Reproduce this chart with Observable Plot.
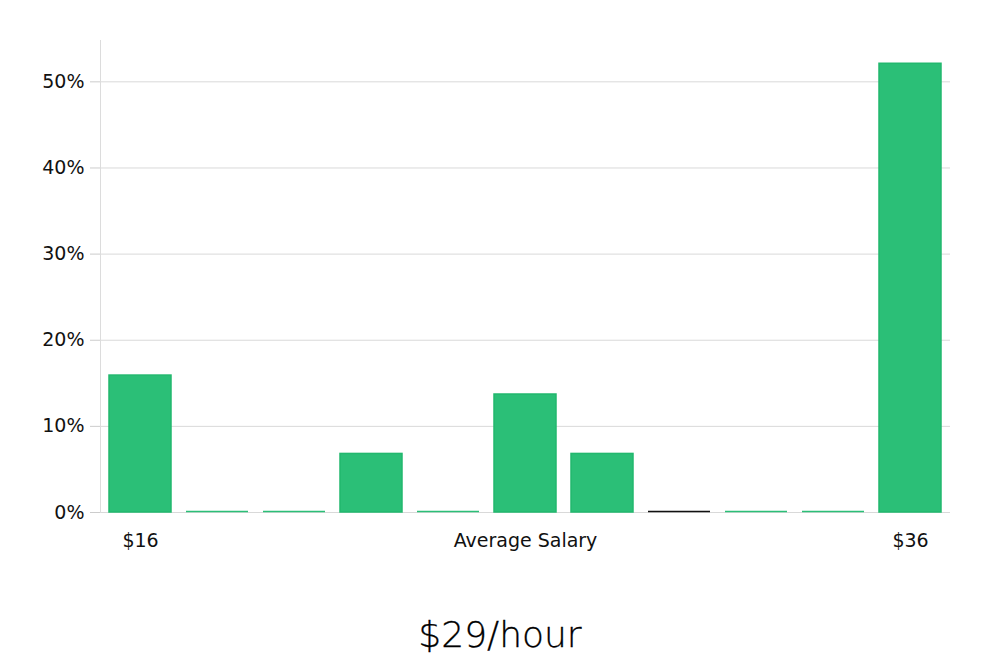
<!DOCTYPE html>
<html>
<head>
<meta charset="utf-8">
<script src="https://cdn.jsdelivr.net/npm/d3@7"></script>
<script src="https://cdn.jsdelivr.net/npm/@observablehq/plot@0.6"></script>
<style>
  html, body { margin: 0; padding: 0; background: #fff; }
  #chart { width: 1000px; }
  .title { text-align: center; font-family: "DejaVu Sans", sans-serif; font-weight: 200; font-size: 36px; color: #000; margin-top: 44px; -webkit-text-stroke: 0.3px #000; }
</style>
</head>
<body>
<div id="chart"></div>
<div class="title">$29/hour</div>
<script>
const bins = [0, 1, 2, 3, 4, 5, 6, 7, 8, 9, 10];
const shares = [0.159, 0, 0, 0.068, 0, 0.137, 0.068, 0, 0, 0, 0.521];
const tickLabels = ["$16", "", "", "", "", "Average Salary", "", "", "", "", "$36"];
const zeroColors = ["#2bbf77", "#2bbf77", "#2bbf77", "#2bbf77", "#2bbf77", "#2bbf77", "#2bbf77", "#111111", "#2bbf77", "#2bbf77", "#2bbf77"];

const data = bins.map((b, i) => ({bin: b, share: shares[i], zc: zeroColors[i]}));
const nonzero = data.filter(d => d.share > 0);
const zeros = data.filter(d => d.share === 0);

const chart = Plot.plot({
  width: 1000,
  height: 570,
  marginLeft: 100,
  marginRight: 50,
  marginTop: 40,
  marginBottom: 58,
  style: {fontFamily: "DejaVu Sans, sans-serif", fontSize: "19px", color: "#111"},
  x: {domain: bins, paddingInner: 0.2, paddingOuter: 0.1, label: null},
  y: {domain: [0, 0.548], label: null},
  marks: [
    Plot.gridY({ticks: [0, 0.1, 0.2, 0.3, 0.4, 0.5], stroke: "#d9d9d9", strokeOpacity: 1}),
    Plot.frame({anchor: "left", stroke: "#dcdcdc"}),
    Plot.axisY({ticks: [0, 0.1, 0.2, 0.3, 0.4, 0.5], tickFormat: d => Math.round(d * 100) + "%", tickSize: 10, tickPadding: 6, stroke: "#cccccc", fontSize: 19, label: null}),
    Plot.axisX({tickFormat: i => tickLabels[i], tickSize: 0, tickPadding: 21, fontSize: 19, label: null}),
    Plot.barY(nonzero, {x: "bin", y: "share", fill: "#2bbf77", stroke: "#22b86e", strokeWidth: 1.5}),
    Plot.tickY(zeros, {x: "bin", y: 0, stroke: "zc", strokeWidth: 1.5, dy: -1})
  ]
});
document.getElementById("chart").appendChild(chart);
</script>
</body>
</html>
